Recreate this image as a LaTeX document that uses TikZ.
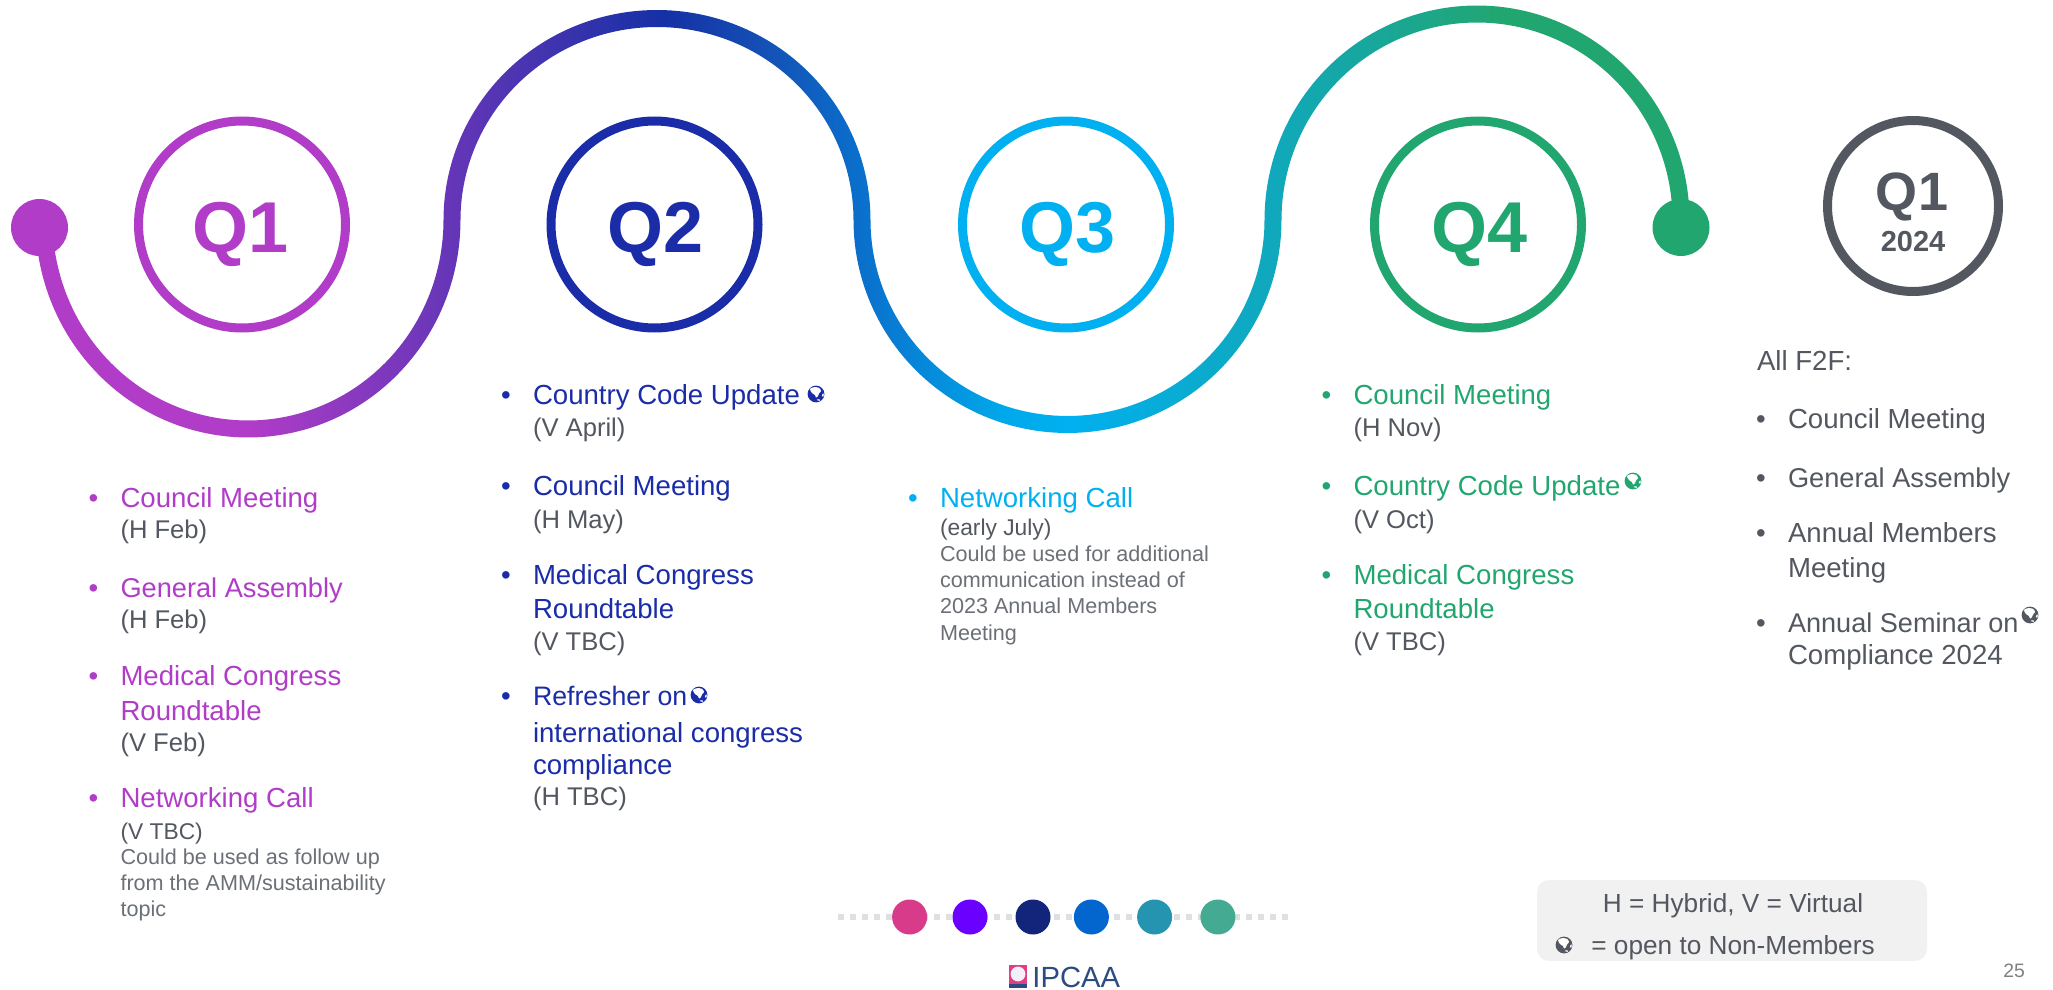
\documentclass[tikz,border=0pt]{standalone}
\usepackage{fontspec}
\setmainfont{Liberation Sans}
\definecolor{cpur}{HTML}{B03CC8}
\definecolor{cblu}{HTML}{1A2CA8}
\definecolor{ccya}{HTML}{00B0F0}
\definecolor{cgrn}{HTML}{22A670}
\definecolor{cgry}{HTML}{53575F}
\definecolor{csub}{HTML}{6B6F76}
\definecolor{cteal}{HTML}{10A8BC}
\definecolor{wblu}{HTML}{1530A5}
\definecolor{wmid}{HTML}{1450B5}
\definecolor{wmid2}{HTML}{0A70CC}
\definecolor{wcya}{HTML}{00A8EA}
\definecolor{pa}{HTML}{D83B8A}
\definecolor{pb}{HTML}{6A00FF}
\definecolor{pc}{HTML}{12257A}
\definecolor{pd}{HTML}{0366CE}
\definecolor{pe}{HTML}{2494B0}
\definecolor{pf}{HTML}{44AA92}
\definecolor{lpink}{HTML}{E04082}
\definecolor{lblue}{HTML}{2B4C80}
\definecolor{lwhite}{HTML}{F4F0FA}
\definecolor{legbg}{HTML}{F1F1F2}
\definecolor{dots}{HTML}{DEDFE1}
\pgfdeclarehorizontalshading{gradpath}{100bp}{color(0bp)=(cpur);color(31.5bp)=(cpur);color(44bp)=(wblu);color(47bp)=(wmid);color(50bp)=(wmid2);color(54.2bp)=(wcya);color(56.2bp)=(ccya);color(62.4bp)=(cteal);color(69.3bp)=(cgrn);color(100bp)=(cgrn)}
\newcommand\fsz[1]{\fontsize{#1}{#1}\selectfont}
\tikzset{
 txt/.style={anchor=base west,inner sep=0pt,outer sep=0pt},
 head/.style={txt,font=\fsz{13.8}},
 sub/.style={txt,font=\fsz{12.8},text=cgry},
 subs/.style={txt,font=\fsz{11.4},text=cgry},
 note/.style={txt,font=\fsz{10.8},text=csub},
 ring/.style={circle,draw=#1,line width=4.5pt,minimum size=103.5pt,inner sep=0pt,outer sep=0pt},
 qlab/.style={anchor=base,inner sep=0pt,outer sep=0pt,font=\fsz{36}\bfseries,text=#1},
 endot/.style={circle,fill=#1,minimum size=28.5pt,inner sep=0pt,outer sep=0pt},
 pal/.style={circle,fill=#1,minimum size=17.5pt,inner sep=0pt,outer sep=0pt},
}
% head line with a bullet: name, x, y, colour, text
\newcommand\hd[5]{\node[head,text=#4] (#1b) at (#2-32,#3) {•};\node[head,text=#4] (#1) at (#2,#3) {#5};}
% globe: x, y, colour
\newcommand\globe[3]{\begin{scope}[shift={(#1,#2)}]
 \fill[#3] (0,0) circle[radius=4.2pt];
 \fill[white] plot[smooth cycle] coordinates {(-6,-5)(-2,-6.8)(3,-6.2)(5,-3)(3,-0.5)(2,2)(0,3.5)(-1,1)(-4,-1)};
 \fill[white] plot[smooth cycle] coordinates {(0.5,6)(3,5.2)(4,6.8)};
 \fill[white] plot[smooth cycle] coordinates {(5.8,1)(7.8,-0.5)(7.2,3)};
 \end{scope}}
\begin{document}
\begin{tikzpicture}[x=0.5pt,y=-0.5pt]
\useasboundingbox (0,0) rectangle (2053,990);
% wave
\shade[shading=gradpath]
 plot[domain=180:0,samples=120] ({248+212.5*cos(\x)},{220+217.5*sin(\x)})
 -- plot[domain=180:360,samples=120] ({657+196.5*cos(\x)},{220+193*sin(\x)})
 -- plot[domain=180:0,samples=120] ({1067.5+214*cos(\x)},{220+213*sin(\x)})
 -- plot[domain=180:360,samples=120] ({1477+195.5*cos(\x)},{220+197.5*sin(\x)})
 -- plot[domain=360:180,samples=120] ({1477+212.5*cos(\x)},{220+214.5*sin(\x)})
 -- plot[domain=0:180,samples=120] ({1067.5+197*cos(\x)},{220+196*sin(\x)})
 -- plot[domain=360:180,samples=120] ({657+213.5*cos(\x)},{220+210*sin(\x)})
 -- plot[domain=0:180,samples=120] ({248+195.5*cos(\x)},{220+200.5*sin(\x)})
 -- cycle;
\node[endot=cpur] (startdot) at (39.5,227.5) {};
\node[endot=cgrn] (enddot) at (1681,227.5) {};
% rings
\node[ring=cpur] (r1) at (242,224.5) {};
\node[ring=cblu] (r2) at (654.5,224.5) {};
\node[ring=ccya] (r3) at (1066,224.5) {};
\node[ring=cgrn] (r4) at (1478,224.5) {};
\node[ring=cgry,minimum size=85.5pt] (r5) at (1913,206) {};
\node[qlab=cpur] (q1) at (241,253) {Q1};
\node[qlab=cblu] (q2) at (655.5,253) {Q2};
\node[qlab=ccya] (q3) at (1067.5,253) {Q3};
\node[qlab=cgrn] (q4) at (1479.5,253) {Q4};
\node[anchor=base,inner sep=0pt,font=\fsz{27}\bfseries,text=cgry] (q5) at (1912,211) {Q1};
\node[anchor=base,inner sep=0pt,font=\fsz{14.5}\bfseries,text=cgry] (q5y) at (1913,251) {2024};
% column 1
\hd{a1}{120.5}{507}{cpur}{Council Meeting}
\node[sub] (a1s) at (120.5,538) {(H Feb)};
\hd{a2}{120.5}{597}{cpur}{\fsz{13.6}General Assembly}
\node[sub] (a2s) at (120.5,628) {(H Feb)};
\hd{a3}{120.5}{685}{cpur}{Medical Congress}
\node[head,text=cpur] (a3x) at (120.5,720) {Roundtable};
\node[sub] (a3s) at (120.5,751) {(V Feb)};
\hd{a4}{120.5}{807}{cpur}{Networking Call}
\node[subs] (a4s) at (120.5,839) {(V TBC)};
\node[note] (a4n) at (120.5,864) {Could be used as follow up};
\node[note] (a4o) at (120.5,890) {from the AMM/sustainability};
\node[note] (a4p) at (120.5,916) {topic};
% column 2
\hd{b1}{533}{404}{cblu}{Country Code Update}
\node[sub] (b1s) at (533,436) {(V April)};
\hd{b2}{533}{495}{cblu}{Council Meeting}
\node[sub] (b2s) at (533,528) {(H May)};
\hd{b3}{533}{584}{cblu}{Medical Congress}
\node[head,text=cblu] (b3x) at (533,618) {Roundtable};
\node[sub] (b3s) at (533,650) {(V TBC)};
\hd{b4}{533}{705}{cblu}{\fsz{13.35}Refresher on}
\node[head,text=cblu] (b4x) at (533,742) {international congress};
\node[head,text=cblu] (b4y) at (533,774) {compliance};
\node[sub] (b4s) at (533,805) {(H TBC)};
\globe{816}{394}{cblu}
\globe{699}{695}{cblu}
% column 3
\hd{c1}{940}{507}{ccya}{Networking Call}
\node[subs] (c1s) at (940,535) {(early July)};
\node[note] (c1n) at (940,561) {Could be used for additional};
\node[note] (c1o) at (940,587) {communication instead of};
\node[note] (c1p) at (940,613) {2023 Annual Members};
\node[note] (c1q) at (940,640) {Meeting};
% column 4
\hd{d1}{1353.5}{404}{cgrn}{Council Meeting}
\node[sub] (d1s) at (1353.5,436) {(H Nov)};
\hd{d2}{1353.5}{495}{cgrn}{Country Code Update}
\node[sub] (d2s) at (1353.5,528) {(V Oct)};
\hd{d3}{1353.5}{584}{cgrn}{Medical Congress}
\node[head,text=cgrn] (d3x) at (1353.5,618) {Roundtable};
\node[sub] (d3s) at (1353.5,650) {(V TBC)};
\globe{1633}{481}{cgrn}
% column 5
\node[head,text=cgry] (e0) at (1757,370) {All F2F:};
\hd{e1}{1788}{428}{cgry}{Council Meeting}
\hd{e2}{1788}{487}{cgry}{\fsz{13.6}General Assembly}
\hd{e3}{1788}{542}{cgry}{Annual Members}
\node[head,text=cgry] (e3x) at (1788,577) {Meeting};
\hd{e4}{1788}{632}{cgry}{\fsz{13.55}Annual Seminar on}
\node[head,text=cgry] (e4x) at (1788,664) {Compliance 2024};
\globe{2030}{615}{cgry}
% palette
\coordinate (dl) at (838,917);
\coordinate (dr) at (1289,917);
\draw[color=dots,line width=3pt,dash pattern=on 3pt off 3pt] (dl) -- (dr);
\node[pal=pa] (p1) at (909.6,917) {};
\node[pal=pb] (p2) at (970,917) {};
\node[pal=pc] (p3) at (1033,917) {};
\node[pal=pd] (p4) at (1091.4,917) {};
\node[pal=pe] (p5) at (1154.6,917) {};
\node[pal=pf] (p6) at (1217.9,917) {};
% logo
\fill[lpink] (1009,965) rectangle (1027,988);
\fill[lwhite] (1018,974) circle[radius=3.7pt];
\fill[lblue] (1009,984) rectangle (1027,988);
\node[anchor=base west,inner sep=0pt,font=\fsz{14.6},text=lblue] (logo) at (1032,987.5) {IPCAA};
% legend
\node[fill=legbg,rounded corners=6pt,minimum width=195pt,minimum height=40.5pt,inner sep=0pt,outer sep=0pt] (legend) at (1732,920.5) {};
\node[anchor=base,inner sep=0pt,font=\fsz{13.1},text=cgry] (leg1) at (1733,912) {H = Hybrid, V = Virtual};
\node[anchor=base west,inner sep=0pt,font=\fsz{13.1},text=cgry] (leg2) at (1591,954) {= open to Non-Members};
\globe{1564}{945}{cgry}
\node[anchor=base west,inner sep=0pt,font=\fsz{9.7},text=black!50] (pg) at (2003,977) {25};
\end{tikzpicture}
\end{document}
